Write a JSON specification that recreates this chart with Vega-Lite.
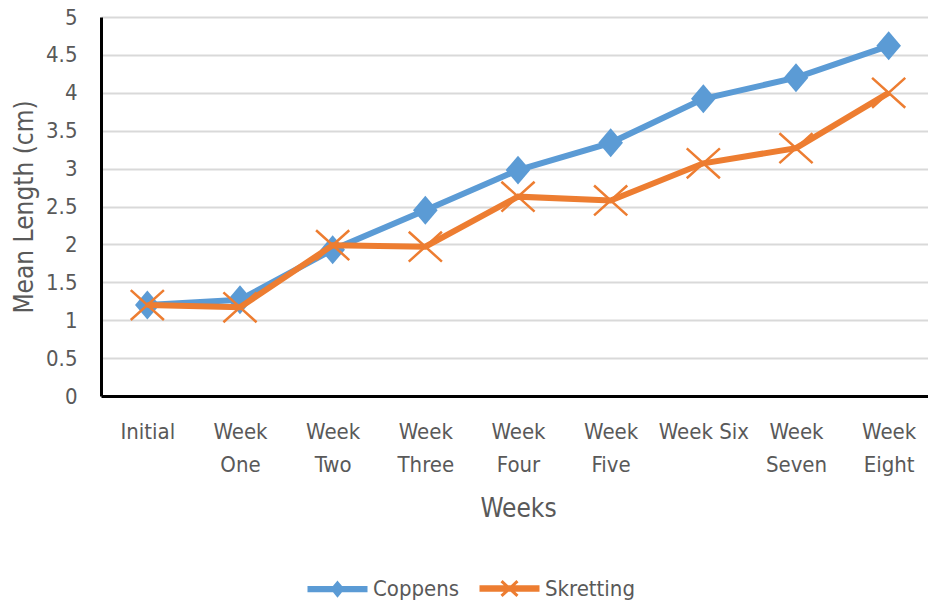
{
  "$schema": "https://vega.github.io/schema/vega-lite/v6.json",
  "width": 834,
  "height": 379,
  "autosize": {"type": "none"},
  "padding": {"left": 101, "top": 17, "right": 0, "bottom": 206},
  "background": "white",
  "config": {
    "view": {"stroke": null},
    "font": "Liberation Sans Narrow, DejaVu Sans Condensed, sans-serif"
  },
  "data": {
    "values": [
      {"week": "Initial", "series": "Coppens", "length": 1.2},
      {"week": "Week One", "series": "Coppens", "length": 1.27},
      {"week": "Week Two", "series": "Coppens", "length": 1.93},
      {"week": "Week Three", "series": "Coppens", "length": 2.45},
      {"week": "Week Four", "series": "Coppens", "length": 2.98},
      {"week": "Week Five", "series": "Coppens", "length": 3.34},
      {"week": "Week Six", "series": "Coppens", "length": 3.92},
      {"week": "Week Seven", "series": "Coppens", "length": 4.2},
      {"week": "Week Eight", "series": "Coppens", "length": 4.62},
      {"week": "Initial", "series": "Skretting", "length": 1.2},
      {"week": "Week One", "series": "Skretting", "length": 1.17},
      {"week": "Week Two", "series": "Skretting", "length": 1.99},
      {"week": "Week Three", "series": "Skretting", "length": 1.97},
      {"week": "Week Four", "series": "Skretting", "length": 2.63},
      {"week": "Week Five", "series": "Skretting", "length": 2.58},
      {"week": "Week Six", "series": "Skretting", "length": 3.07},
      {"week": "Week Seven", "series": "Skretting", "length": 3.27},
      {"week": "Week Eight", "series": "Skretting", "length": 4.0}
    ]
  },
  "encoding": {
    "x": {
      "field": "week",
      "type": "nominal",
      "sort": ["Initial", "Week One", "Week Two", "Week Three", "Week Four", "Week Five", "Week Six", "Week Seven", "Week Eight"],
      "scale": {"type": "point", "padding": 0.5},
      "axis": {
        "labelAngle": 0,
        "labelExpr": "datum.label == 'Week Six' ? datum.label : split(datum.label, ' ')",
        "labelLineHeight": 33,
        "labelFontSize": 22,
        "labelColor": "#595959",
        "labelPadding": 25,
        "ticks": false,
        "grid": false,
        "domainColor": "#000000",
        "domainWidth": 3,
        "title": "Weeks",
        "titleFontSize": 26,
        "titleFontWeight": "normal",
        "titleColor": "#595959",
        "titlePadding": 20
      }
    },
    "y": {
      "field": "length",
      "type": "quantitative",
      "scale": {"domain": [0, 5], "nice": false},
      "axis": {
        "values": [0, 0.5, 1, 1.5, 2, 2.5, 3, 3.5, 4, 4.5, 5],
        "format": "~g",
        "labelFontSize": 22,
        "labelColor": "#595959",
        "labelPadding": 24,
        "ticks": false,
        "grid": true,
        "gridColor": "#d9d9d9",
        "gridWidth": 2,
        "domainColor": "#000000",
        "domainWidth": 3,
        "title": "Mean Length (cm)",
        "titleFontSize": 26,
        "titleFontWeight": "normal",
        "titleColor": "#595959",
        "titlePadding": 8
      }
    }
  },
  "layer": [
    {
      "transform": [{"filter": "datum.series == 'Coppens'"}],
      "mark": {"type": "line", "strokeWidth": 6},
      "encoding": {
        "color": {
          "field": "series",
          "type": "nominal",
          "scale": {"domain": ["Coppens", "Skretting"], "range": ["#5B9BD5", "#ED7D31"]},
          "legend": {
            "title": null,
            "orient": "none",
            "legendX": 206,
            "legendY": 541,
            "direction": "horizontal",
            "labelFontSize": 22,
            "labelColor": "#595959",
            "labelOffset": 5,
            "columnPadding": 14,
            "symbolSize": 3250,
            "encode": {
              "symbols": {
                "update": {
                  "shape": [
                    {"test": "datum.value === 'Coppens'", "value": "M-1,-0.06H1V0.06H-1Z M0,-0.22L0.18,0L0,0.22L-0.18,0Z"},
                    {"value": "M-1,-0.06H1V0.06H-1Z M-0.28,-0.26L0.28,0.26M-0.28,0.26L0.28,-0.26"}
                  ],
                  "fill": {"scale": "color", "field": "value"},
                  "stroke": {"scale": "color", "field": "value"},
                  "strokeWidth": {"value": 3},
                  "opacity": {"value": 1}
                }
              }
            }
          }
        }
      }
    },
    {
      "transform": [{"filter": "datum.series == 'Coppens'"}],
      "mark": {"type": "point", "shape": "M0,-1L0.85,0L0,1L-0.85,0Z", "filled": true, "size": 840, "color": "#5B9BD5", "opacity": 1}
    },
    {
      "transform": [{"filter": "datum.series == 'Skretting'"}],
      "mark": {"type": "line", "strokeWidth": 6},
      "encoding": {
        "color": {"field": "series", "type": "nominal"}
      }
    },
    {
      "transform": [{"filter": "datum.series == 'Skretting'"}],
      "mark": {"type": "point", "shape": "M-1,-0.9L1,0.9M-1,0.9L1,-0.9", "filled": false, "size": 1100, "stroke": "#ED7D31", "strokeWidth": 2.5, "opacity": 1}
    }
  ]
}
